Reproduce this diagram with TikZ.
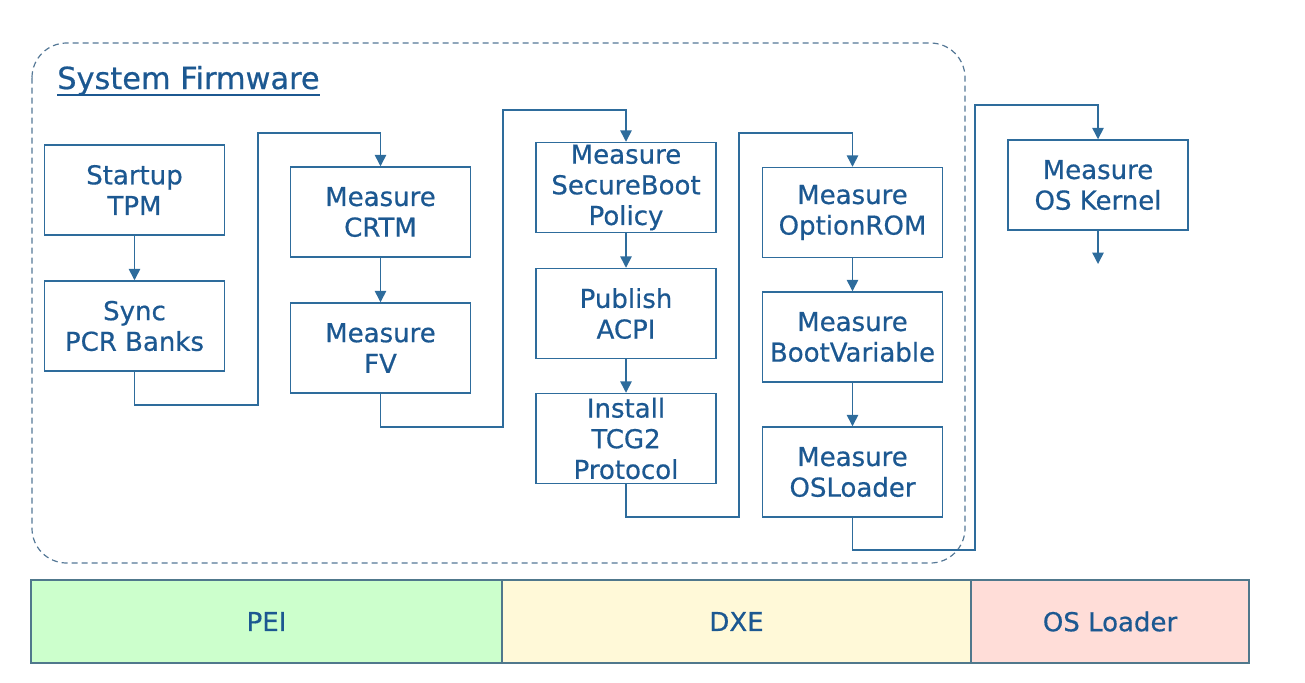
\documentclass[tikz,border=0pt]{standalone}
\usepackage{fontspec}
\setmainfont{DejaVu Sans}[FakeBold=0.6]
\newfontfamily\boxfont{DejaVu Sans}[FakeBold=0.6]
\usetikzlibrary{arrows.meta}
\definecolor{txt}{RGB}{28,88,145}
\definecolor{edge}{RGB}{46,108,156}
\definecolor{dash}{RGB}{85,120,150}
\definecolor{bar}{RGB}{80,120,140}
\definecolor{peifill}{RGB}{204,255,204}
\definecolor{dxefill}{RGB}{255,249,216}
\definecolor{osfill}{RGB}{255,221,216}
\tikzset{
  stepbox/.style={draw=edge, line width=1.1pt, text=txt, align=center, inner sep=0pt,
    minimum width=135pt, minimum height=67.5pt, font=\boxfont\fontsize{19.5}{23}\selectfont},
  conn/.style={draw=edge, line width=1.1pt},
  arr/.style={conn, -{Triangle[width=8.5pt,length=8.5pt]}},
  phase/.style={draw=bar, line width=1pt, text=txt, inner sep=0pt,
    minimum height=62.25pt, font=\boxfont\fontsize{19.5}{23}\selectfont},
}
\begin{document}
\begin{tikzpicture}[x=0.75pt,y=-0.75pt]
\useasboundingbox (0,0) rectangle (1305,682);
% system firmware frame
\draw[draw=dash, line width=0.9pt, dash pattern=on 4.5pt off 3pt, rounded corners=26pt] (32,43) rectangle (965,563);
\node[anchor=base west, text=txt, inner sep=0pt, font=\boxfont\fontsize{22.8}{26}\selectfont] (title) at (57,89) {System Firmware};
\draw[draw=txt, line width=1.1pt] ([yshift=-4.5pt]title.base west) -- ([yshift=-4.5pt]title.base east);
% boxes
\node[stepbox] (s1) at (134.5,190) {Startup\\TPM};
\node[stepbox] (s2) at (134.5,326) {Sync\\PCR Banks};
\node[stepbox] (s3) at (380.5,212) {Measure\\CRTM};
\node[stepbox] (s4) at (380.5,348) {Measure\\FV};
\node[stepbox] (s5) at (626,187.5) {Measure\\SecureBoot\\Policy};
\node[stepbox] (s6) at (626,313.5) {Publish\\ACPI};
\node[stepbox] (s7) at (626,438.5) {Install\\TCG2\\Protocol};
\node[stepbox] (s8) at (852.5,212.5) {Measure\\OptionROM};
\node[stepbox] (s9) at (852.5,337) {Measure\\BootVariable};
\node[stepbox] (s10) at (852.5,472) {Measure\\OSLoader};
\node[stepbox] (s11) at (1098,185) {Measure\\OS Kernel};
% vertical arrows
\draw[arr] (s1) -- (s2);
\draw[arr] (s3) -- (s4);
\draw[arr] (s5) -- (s6);
\draw[arr] (s6) -- (s7);
\draw[arr] (s8) -- (s9);
\draw[arr] (s9) -- (s10);
\coordinate (kend) at (1098,264);
\draw[arr] (s11) -- (kend);
% routing coordinates
\coordinate (a1) at (258,405); \coordinate (b1) at (258,133);
\coordinate (a2) at (503,427); \coordinate (b2) at (503,110);
\coordinate (a3) at (739,517); \coordinate (b3) at (739,133);
\coordinate (a4) at (975,550); \coordinate (b4) at (975,105);
\draw[arr] (s2.south) |- (a1) -- (b1) -| (s3.north);
\draw[arr] (s4.south) |- (a2) -- (b2) -| (s5.north);
\draw[arr] (s7.south) |- (a3) -- (b3) -| (s8.north);
\draw[arr] (s10.south) |- (a4) -- (b4) -| (s11.north);
% phases
\node[phase, fill=peifill, minimum width=353.25pt] (pei) at (266.5,621.5) {PEI};
\node[phase, fill=dxefill, minimum width=351.75pt] (dxe) at (736.5,621.5) {DXE};
\node[phase, fill=osfill, minimum width=208.5pt] (osl) at (1110,621.5) {OS Loader};
\end{tikzpicture}
\end{document}
